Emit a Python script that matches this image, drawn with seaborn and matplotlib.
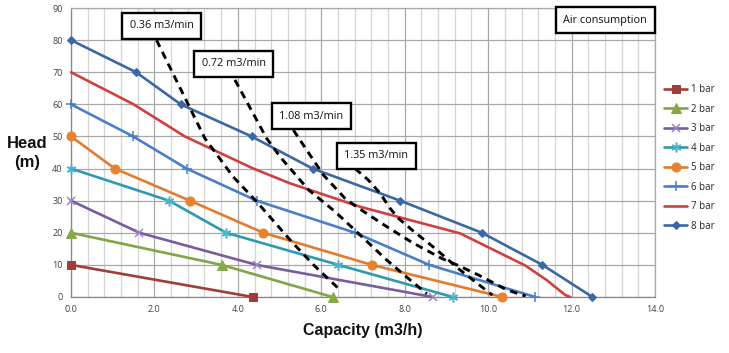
import numpy as np
import pandas as pd
import matplotlib
matplotlib.use("Agg")
import matplotlib.pyplot as plt
import seaborn as sns

# ---- pump curves: capacity (m3/h) vs head (m) ----
bar1_x = [0.0, 4.36]
bar1_y = [10, 0]
bar2_x = [0.0, 3.61, 6.27]
bar2_y = [20, 10, 0]
bar3_x = [0.0, 1.64, 4.45, 8.67]
bar3_y = [30, 20, 10, 0]
bar4_x = [0.0, 2.35, 3.72, 6.41, 9.15]
bar4_y = [40, 30, 20, 10, 0]
bar5_x = [0.0, 1.05, 2.85, 4.61, 7.21, 10.34]
bar5_y = [50, 40, 30, 20, 10, 0]
bar6_x = [0.0, 1.49, 2.77, 4.45, 6.81, 8.59, 11.13]
bar6_y = [60, 50, 40, 30, 20, 10, 0]
bar7_x = [0.0, 1.5, 2.73, 4.37, 5.25, 6.93, 9.33, 10.89, 11.4, 11.85, 11.97]
bar7_y = [70, 60, 50, 40, 35.4, 28.1, 19.8, 9.8, 5.3, 0.6, 0]
bar8_x = [0.0, 1.56, 2.63, 4.33, 5.79, 7.89, 9.85, 11.3, 12.5]
bar8_y = [80, 70, 60, 50, 40, 30, 20, 10, 0]

series_labels = ["1 bar", "2 bar", "3 bar", "4 bar", "5 bar", "6 bar", "7 bar", "8 bar"]

# ---- air consumption lines ----
air036_x = [2.05, 3.21, 3.89, 4.45, 5.25, 5.79, 6.45]
air036_y = [80, 49.4, 37.4, 29.7, 17.8, 10.3, 2.2]
air072_x = [3.93, 4.69, 5.01, 5.7, 6.33, 6.93, 7.57, 8.13, 8.53]
air072_y = [67.6, 49.4, 43.7, 33.3, 26.6, 19.3, 11.5, 5.3, 1.0]
air108_x = [5.33, 6.05, 6.57, 6.89, 7.57, 8.2, 8.89, 9.25, 9.76, 10.45, 10.9]
air108_y = [52, 38, 30.7, 27.7, 21.9, 16.8, 12, 10, 6.9, 2.2, 0.3]
air135_x = [6.81, 7.13, 7.41, 7.65, 7.85, 8.21, 8.74, 9.3, 10.1]
air135_y = [40, 36.4, 32.3, 27.6, 24.5, 20.5, 15, 8.7, 0.6]
air_labels = ["0.36 m3/min", "0.72 m3/min", "1.08 m3/min", "1.35 m3/min"]
air_label_pos = [(2.18, 84.4), (3.9, 72.6), (5.76, 56.3), (7.32, 44.0)]

x_ticks = [0.0, 2.0, 4.0, 6.0, 8.0, 10.0, 12.0, 14.0]
y_ticks = [0, 10, 20, 30, 40, 50, 60, 70, 80, 90]

sns.set_theme(style="white")
plt.rcParams["font.family"] = ["Open Sans", "DejaVu Sans"]

fig = plt.figure(figsize=(7.29, 3.53), dpi=100)
ax = fig.add_axes([71 / 729, 1 - 297 / 353, (655 - 71) / 729, (297 - 8) / 353])

styles = [
    dict(color="#A03D3A", marker="s", ms=6, mfc="#A03D3A", mec="#A03D3A"),
    dict(color="#82A645", marker="^", ms=6.5, mfc="#86AA48", mec="#86AA48"),
    dict(color="#7A5C9E", marker="x", ms=6, mec="#9C84BE", mew=1.1),
    dict(color="#2E9AAE", marker=(6, 2, 0), ms=7, mec="#4DB2C8", mew=1.1),
    dict(color="#E47B2C", marker="o", ms=6.5, mfc="#E8822F", mec="#E8822F"),
    dict(color="#4A7FC7", marker="+", ms=7, mec="#4A7FC7", mew=1.1),
    dict(color="#CF4040"),
    dict(color="#3A67A5", marker="D", ms=4.5, mfc="#3A67A5", mec="#3A67A5"),
]
all_x = [bar1_x, bar2_x, bar3_x, bar4_x, bar5_x, bar6_x, bar7_x, bar8_x]
all_y = [bar1_y, bar2_y, bar3_y, bar4_y, bar5_y, bar6_y, bar7_y, bar8_y]

handles = []
for xs, ys, lab, st in zip(all_x, all_y, series_labels, styles):
    df = pd.DataFrame({"x": xs, "y": ys})
    n_before = len(ax.lines)
    sns.lineplot(data=df, x="x", y="y", ax=ax, sort=False, estimator=None,
                 lw=1.9, zorder=3, legend=False, **st)
    line = ax.lines[n_before]
    line.set_clip_on(False)
    handles.append(line)

air_x = [air036_x, air072_x, air108_x, air135_x]
air_y = [air036_y, air072_y, air108_y, air135_y]
for xs, ys in zip(air_x, air_y):
    df = pd.DataFrame({"x": xs, "y": ys})
    sns.lineplot(data=df, x="x", y="y", ax=ax, sort=False, estimator=None,
                 color="black", lw=2.1, dashes=False, zorder=4, legend=False)
    ax.lines[-1].set_linestyle((0, (2.6, 1.9)))

box_style = dict(boxstyle="square,pad=0.7", fc="white", ec="black", lw=1.7)
for lab, (bx, by) in zip(air_labels, air_label_pos):
    ax.text(bx, by, lab, ha="center", va="center", fontsize=7.8, color="#111111",
            bbox=box_style, zorder=6)
ax.text(12.81, 86.2, "Air consumption", ha="center", va="center", fontsize=7.8,
        color="#111111", bbox=dict(boxstyle="square,pad=0.7", fc="white", ec="black", lw=1.7),
        zorder=6)

ax.set_xlim(0, 14)
ax.set_ylim(0, 90)
ax.set_xticks(x_ticks)
ax.set_xticklabels([f"{v:.1f}" for v in x_ticks])
ax.set_yticks(y_ticks)
ax.set_yticklabels([str(v) for v in y_ticks])
ax.set_xticks(np.arange(0, 14.01, 0.4), minor=True)
ax.grid(which="major", color="#a8a8a8", lw=0.9, zorder=0)
ax.grid(which="minor", axis="x", color="#d4d4d4", lw=0.9, zorder=0)
ax.set_axisbelow(True)
ax.tick_params(axis="both", which="major", labelsize=6.5, labelcolor="#404040",
               length=3, width=0.8, color="#868686", direction="out", pad=3)
ax.tick_params(which="minor", length=0)
for side in ["left", "bottom"]:
    ax.spines[side].set_color("#868686")
    ax.spines[side].set_linewidth(0.9)
for side in ["top", "right"]:
    ax.spines[side].set_color("#a8a8a8")
    ax.spines[side].set_linewidth(0.9)
ax.set_xlabel("")
ax.set_ylabel("")

fig.text(27 / 729, 1 - 153 / 353, "Head\n(m)", ha="center", va="center",
         fontsize=12, fontweight="bold", family="Liberation Sans", linespacing=1.25,
         color="#111111")
fig.text(363 / 729, 1 - 330 / 353, "Capacity (m3/h)", ha="center", va="center",
         fontsize=11.5, fontweight="bold", family="Liberation Sans", color="#111111")

fig.legend(handles=handles, labels=series_labels, loc="upper left",
           bbox_to_anchor=(664 / 729, 1 - 84 / 353), frameon=False, fontsize=7,
           handlelength=2.4, handletextpad=0.35, labelspacing=0.88, borderpad=0,
           borderaxespad=0, numpoints=1)

fig.savefig("out.png", dpi=100)
